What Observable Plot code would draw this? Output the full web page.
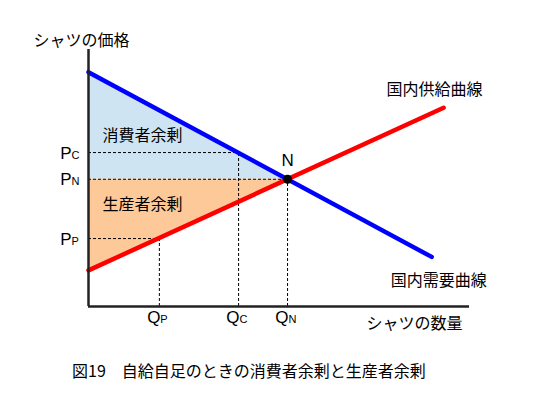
<!DOCTYPE html>
<html><head><meta charset="utf-8">
<script src="https://cdn.jsdelivr.net/npm/d3@7"></script>
<script src="https://cdn.jsdelivr.net/npm/@observablehq/plot@0.6"></script>
<style>
body{margin:0;background:#fff;}
#wrap{position:relative;width:559px;height:397px;}
#cap{position:absolute;left:72px;top:359px;font-family:'Noto Sans CJK JP',sans-serif;font-size:16px;color:#000;white-space:pre;line-height:22px;}
</style></head>
<body><div id="wrap"><div id="chart"></div><div id="cap"></div></div>
<script>
// Data (quantity q, price p)
const demand = [{q: 0, p: 9.21}, {q: 8.62, p: 1.95}];
const supply = [{q: 0, p: 1.42}, {q: 8.92, p: 7.81}];
const equilibrium = [{q: 5, p: 5}];
const guides = [{q: 1.78, p: 2.67}, {q: 3.77, p: 6.05}, {q: 5, p: 5}];
const priceTickMain = ["P", "P", "P"];
const priceTickSub = ["P", "C", "N"];
const qtyTickMain = ["Q", "Q", "Q"];
const qtyTickSub = ["P", "C", "N"];
const yTitle = "シャツの価格";
const xTitle = "シャツの数量";
const supplyLabel = "国内供給曲線";
const demandLabel = "国内需要曲線";
const csLabel = "消費者余剰";
const psLabel = "生産者余剰";
const eqLabel = "N";
const caption = "図19　自給自足のときの消費者余剰と生産者余剰";

const xMax = 9.57, yMax = 10.1;
const lin = (line, q) => line[0].p + (line[1].p - line[0].p) * (q - line[0].q) / (line[1].q - line[0].q);
const E = equilibrium[0];
const span = [0, E.q].map(q => ({q}));
const ticks = guides.map((g, i) => ({...g, pm: priceTickMain[i], ps: priceTickSub[i], qm: qtyTickMain[i], qs: qtyTickSub[i]}));
const JP = "'Noto Sans CJK JP', sans-serif";
const LAT = "'Liberation Sans Narrow', 'Liberation Sans', Arial, sans-serif";

const chart = Plot.plot({
  width: 559, height: 350,
  marginLeft: 88, marginRight: 90, marginTop: 49, marginBottom: 44,
  x: {domain: [0, xMax], axis: null},
  y: {domain: [0, yMax], axis: null},
  marks: [
    Plot.areaY(span, {x: "q", y1: E.p, y2: d => lin(demand, d.q), fill: "#cfe4f3"}),
    Plot.areaY(span, {x: "q", y1: d => lin(supply, d.q), y2: E.p, fill: "#fdc999"}),
    Plot.ruleY(guides, {x1: 0, x2: "q", y: "p", stroke: "#000", strokeWidth: 1, strokeDasharray: "3,2"}),
    Plot.ruleX(guides, {x: "q", y1: 0, y2: "p", stroke: "#000", strokeWidth: 1, strokeDasharray: "3,2"}),
    Plot.line(demand, {x: "q", y: "p", stroke: "#0000ff", strokeWidth: 4.5}),
    Plot.line(supply, {x: "q", y: "p", stroke: "#ff0000", strokeWidth: 4.5}),
    Plot.dot(equilibrium, {x: "q", y: "p", r: 4.5, fill: "#000"}),
    Plot.ruleX([0], {y1: 0, y2: yMax, stroke: "#222", strokeWidth: 2.5}),
    Plot.ruleY([0], {x1: 0, x2: xMax, stroke: "#222", strokeWidth: 2.5}),
    // price tick labels
    Plot.text(ticks, {x: 0, y: "p", text: "pm", textAnchor: "end", lineAnchor: "bottom", dx: -17, dy: 6, fontSize: 17, fontFamily: LAT, fill: "#000"}),
    Plot.text(ticks, {x: 0, y: "p", text: "ps", textAnchor: "start", lineAnchor: "bottom", dx: -17, dy: 6, fontSize: 11, fontFamily: LAT, fill: "#000"}),
    // quantity tick labels
    Plot.text(ticks, {x: "q", y: 0, text: "qm", textAnchor: "end", lineAnchor: "bottom", dx: 1, dy: 16, fontSize: 17, fontFamily: LAT, fill: "#000"}),
    Plot.text(ticks, {x: "q", y: 0, text: "qs", textAnchor: "start", lineAnchor: "bottom", dx: 1, dy: 16, fontSize: 11, fontFamily: LAT, fill: "#000"}),
    // titles and labels
    Plot.text([yTitle], {x: 0, y: yMax, text: d => d, textAnchor: "start", dx: -55, dy: -9, fontSize: 16, fontFamily: JP, fill: "#000"}),
    Plot.text([xTitle], {x: xMax, y: 0, text: d => d, textAnchor: "end", dx: -7, dy: 17, fontSize: 16, fontFamily: JP, fill: "#000"}),
    Plot.text([supply[1]], {x: "q", y: "p", text: () => supplyLabel, textAnchor: "start", dx: -57, dy: -18, fontSize: 16, fontFamily: JP, fill: "#000"}),
    Plot.text([demand[1]], {x: "q", y: "p", text: () => demandLabel, textAnchor: "start", dx: -41, dy: 24, fontSize: 16, fontFamily: JP, fill: "#000"}),
    Plot.text([csLabel], {x: 0, y: 6.69, text: d => d, textAnchor: "start", dx: 14, fontSize: 16, fontFamily: JP, fill: "#000"}),
    Plot.text([psLabel], {x: 0, y: 3.98, text: d => d, textAnchor: "start", dx: 14, fontSize: 16, fontFamily: JP, fill: "#000"}),
    Plot.text(equilibrium, {x: "q", y: "p", text: () => eqLabel, dy: -19, fontSize: 17, fontFamily: LAT, fill: "#000"})
  ]
});
document.getElementById("chart").appendChild(chart);
document.getElementById("cap").textContent = caption;
</script>
</body></html>
